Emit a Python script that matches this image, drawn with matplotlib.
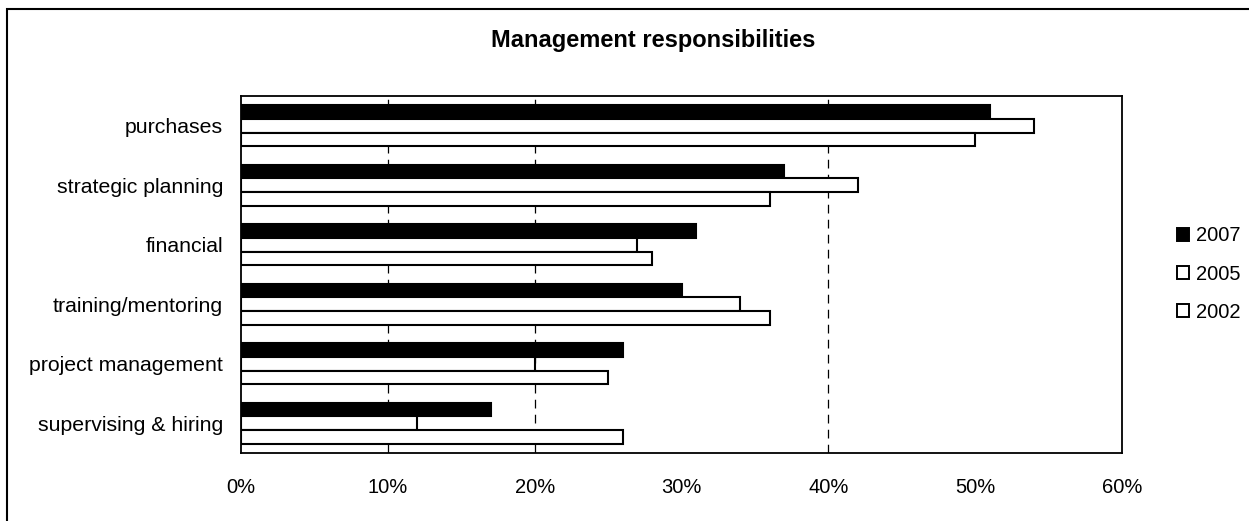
import numpy as np
import matplotlib
matplotlib.use("Agg")
import matplotlib.pyplot as plt
from matplotlib.patches import Rectangle


W, H, DPI = 1249, 521, 100

categories = ["purchases", "strategic planning", "financial",
              "training/mentoring", "project management", "supervising & hiring"]
years = ["2007", "2005", "2002"]
share_2007 = [51, 37, 31, 30, 26, 17]
share_2005 = [54, 42, 27, 34, 20, 12]
share_2002 = [50, 36, 28, 36, 25, 26]
xticks = [0, 10, 20, 30, 40, 50, 60]
grid_at = [10, 20, 40]   # only these gridlines are visible in the original

plt.rcParams["font.family"] = ["Liberation Sans", "DejaVu Sans"]

fig = plt.figure(figsize=(W / DPI, H / DPI), dpi=DPI)
ax = fig.add_axes([241 / W, 1 - 453 / H, (1122 - 241) / W, (453 - 96) / H])

y = np.arange(len(categories))
bh = 0.23
series = [share_2007, share_2005, share_2002]
faces = ["black", "white", "white"]
for k, (vals, fc) in enumerate(zip(series, faces)):
    ax.barh(y + (k - 1) * bh, vals, height=bh, color=fc,
            edgecolor="black", linewidth=1.5, zorder=3)

for g in grid_at:
    ax.axvline(g, color="black", lw=0.9, ls=(0, (7, 5)), zorder=1)

ax.set_xlim(0, 60)
ax.set_ylim(len(categories) - 0.5, -0.5)
ax.set_yticks(y)
ax.set_yticklabels(categories, fontsize=15.3)
ax.set_xticks(xticks)
ax.set_xticklabels([f"{t}%" for t in xticks], fontsize=14.5)
ax.tick_params(axis="y", length=0, pad=13)
ax.tick_params(axis="x", length=0, pad=18)
for s in ax.spines.values():
    s.set_linewidth(1.3)

fig.text(653 / W, 1 - 41 / H, "Management responsibilities",
         fontsize=17, fontweight="bold", ha="center", va="center")

leg_handles = [Rectangle((0, 0), 1, 1, facecolor=fc, edgecolor="black", lw=1.4)
               for fc in faces]
fig.legend(leg_handles, years, loc="center left",
           bbox_to_anchor=(1177 / W, 1 - 274 / H), frameon=False,
           fontsize=14.5, handlelength=0.6, handleheight=0.6,
           handletextpad=0.35, labelspacing=0.95, borderpad=0, borderaxespad=0)

# outer chart border (cropped at right and bottom in the original)
fig.add_artist(Rectangle((7 / W, -0.1), 1.2, 1.1 - 9 / H, transform=fig.transFigure,
                         fill=False, edgecolor="black", lw=1.5))

fig.savefig("out.png", dpi=DPI)
